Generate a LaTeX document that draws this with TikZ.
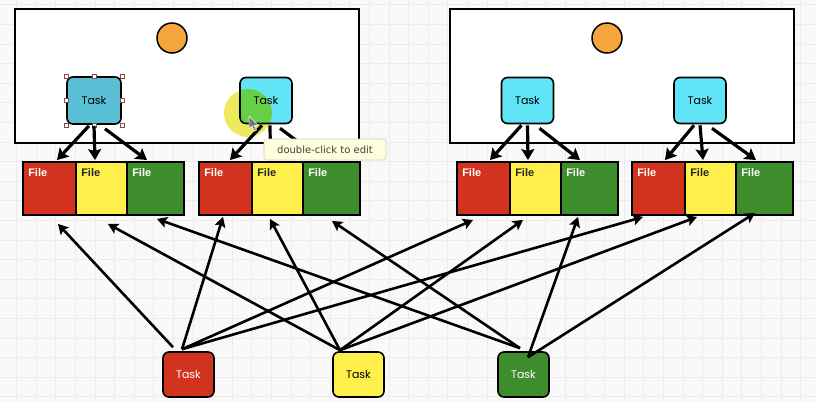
\documentclass[tikz,border=0pt]{standalone}
\usepackage{fontspec}
\setmainfont{Liberation Sans}
\newfontfamily\taskfont{Poppins}
\newfontfamily\tipfont{DejaVu Sans}
\usetikzlibrary{calc,arrows.meta}
\definecolor{bgc}{HTML}{F9F9F9}
\definecolor{gridc}{HTML}{ECECEC}
\definecolor{redc}{HTML}{D1331F}
\definecolor{yelc}{HTML}{FFEF4A}
\definecolor{grnc}{HTML}{3D8D2C}
\definecolor{cyanc}{HTML}{62E4F7}
\definecolor{selc}{HTML}{59BFD4}
\definecolor{orangec}{HTML}{F4A63C}
\definecolor{hlyel}{HTML}{EEEA5E}
\definecolor{hlgrn}{HTML}{66CF46}
\definecolor{tipbg}{HTML}{FFFFDD}
\definecolor{handlec}{HTML}{8A4A4A}
\tikzset{
  gridline/.style={draw=gridc, line width=0.8pt},
  container/.style={draw=black, fill=white, line width=2pt, minimum width=344pt, minimum height=134pt, inner sep=0pt},
  ballnode/.style={circle, draw=black, fill=orangec, line width=1.5pt, minimum size=30pt, inner sep=0pt},
  taskbox/.style={draw=black, rounded corners=6pt, line width=1.6pt, minimum width=52pt, minimum height=46pt, inner sep=0pt, font=\taskfont\fontsize{11}{13}\selectfont},
  filebox/.style={draw=black, line width=1.9pt, minimum height=53pt, inner sep=0pt},
  filelab/.style={anchor=north west, inner sep=0pt, xshift=6pt, yshift=-7pt, font=\bfseries\fontsize{11}{13}\selectfont},
  fileR/.style={filebox, fill=redc, minimum width=53pt, label={[filelab, text=white]north west:File}},
  fileY/.style={filebox, fill=yelc, minimum width=51pt, label={[filelab, text=black!85]north west:File}},
  fileG/.style={filebox, fill=grnc, minimum width=57pt, label={[filelab, text=white]north west:File}},
  toparrow/.style={draw=black, line width=3.2pt, -{Stealth[length=11pt,width=13pt,inset=2pt]}},
  botarrow/.style={draw=black, line width=2.6pt, -{Stealth[length=10pt,width=11pt,inset=2pt]}},
  handle/.style={draw=handlec, fill=white, line width=0.6pt, minimum size=4pt, inner sep=0pt},
  tooltip/.style={draw=black!18, fill=tipbg, rounded corners=3pt, line width=0.6pt, minimum width=122pt, minimum height=21pt, inner sep=0pt, text=black!75, font=\tipfont\fontsize{10}{12}\selectfont},
}
\begin{document}
\begin{tikzpicture}[x=1pt,y=-1pt]
\useasboundingbox (0,0) rectangle (816,402);
\fill[bgc] (0,0) rectangle (816,402);
\foreach \i in {0,...,41} {\draw[gridline] ({16.6+19.6*\i},0) -- ({16.6+19.6*\i},402);}
\foreach \i in {0,...,20} {\draw[gridline] (0,{4.8+19.6*\i}) -- (816,{4.8+19.6*\i});}

% containers
\node[container] (cl) at (187,76) {};
\node[container] (cr) at (622,76) {};
\node[ballnode] (bl) at (172,38) {};
\node[ballnode] (br) at (607,38) {};

% highlight circle
\coordinate (hl) at (248,113);
\fill[hlyel] (hl) circle[radius=24pt];

% top tasks
\node[taskbox, fill=selc, minimum width=54pt, minimum height=47pt] (t1) at (94,100.5) {Task};
\node[taskbox, fill=cyanc, path picture={\fill[hlgrn] (hl) circle[radius=24pt];}] (t2) at (266,100.5) {Task};
\node[taskbox, fill=cyanc] (t3) at (527.5,100.5) {Task};
\node[taskbox, fill=cyanc] (t4) at (700,100.5) {Task};
\foreach \p [count=\i] in {north west,north,north east,west,east,south west,south,south east}
  {\node[handle] (h\i) at (t1.\p) {};}

% files
\node[fileR] (f1r) at (49.5,188.5) {};
\node[fileY] (f1y) at (101.5,188.5) {};
\node[fileG] (f1g) at (155.5,188.5) {};
\node[fileR] (f2r) at (225.5,188.5) {};
\node[fileY] (f2y) at (277.5,188.5) {};
\node[fileG] (f2g) at (331.5,188.5) {};
\node[fileR] (f3r) at (483.5,188.5) {};
\node[fileY] (f3y) at (535.5,188.5) {};
\node[fileG] (f3g) at (589.5,188.5) {};
\node[fileR] (f4r) at (658.5,188.5) {};
\node[fileY] (f4y) at (710.5,188.5) {};
\node[fileG] (f4g) at (764.5,188.5) {};

% bottom tasks
\node[taskbox, fill=redc, text=white, minimum width=51pt, minimum height=45pt] (br1) at (188.5,374.5) {Task};
\node[taskbox, fill=yelc, text=black, minimum width=51pt, minimum height=45pt] (by1) at (358.5,374.5) {Task};
\node[taskbox, fill=grnc, text=white, minimum width=51pt, minimum height=45pt] (bg1) at (523.5,374.5) {Task};

% top arrows
\draw[toparrow] ($(t1.south)+(-5,1)$) -- ($(f1r.north)+(7.5,-1)$);
\draw[toparrow] ($(t1.south)+(0,1)$) -- ($(f1y.north)+(-6.5,-1)$);
\draw[toparrow] ($(t1.south)+(11,4)$) -- ($(f1g.north)+(-8.5,-1)$);
\draw[toparrow] ($(t2.south)+(-4,1)$) -- ($(f2r.north)+(4.5,-1)$);
\draw[toparrow] ($(t2.south)+(4,1)$) -- ($(f2y.north)+(-7,-1)$);
\draw[toparrow] ($(t2.south)+(14,4)$) -- ($(f2g.north)+(-9,-1)$);
\draw[toparrow] ($(t3.south)+(-6,1)$) -- ($(f3r.north)+(6.5,-1)$);
\draw[toparrow] ($(t3.south)+(0,1)$) -- ($(f3y.north)+(-7.5,-1)$);
\draw[toparrow] ($(t3.south)+(12,4)$) -- ($(f3g.north)+(-9.5,-1)$);
\draw[toparrow] ($(t4.south)+(-6,1)$) -- ($(f4r.north)+(6.5,-1)$);
\draw[toparrow] ($(t4.south)+(0,1)$) -- ($(f4y.north)+(-7.5,-1)$);
\draw[toparrow] ($(t4.south)+(12,4)$) -- ($(f4g.north)+(-8.5,-1)$);

% bottom arrows
\draw[botarrow] ($(br1.north)+(-15.5,-4)$) -- ($(f1r.south)+(8.5,8)$);
\draw[botarrow] ($(br1.north)+(-6.5,-2)$) -- ($(f2r.south)+(-2.5,1)$);
\draw[botarrow] ($(br1.north)+(-6.5,-2)$) -- ($(f3r.south)+(-10.5,4)$);
\draw[botarrow] ($(br1.north)+(-6.5,-2)$) -- ($(f4r.south)+(-15.5,1)$);
\draw[botarrow] ($(by1.north)+(-18.5,-1)$) -- ($(f1y.south)+(6.5,8)$);
\draw[botarrow] ($(by1.north)+(-18.5,-1)$) -- ($(f2y.south)+(-7.5,3)$);
\draw[botarrow] ($(by1.north)+(-18.5,-1)$) -- ($(f3y.south)+(-12.5,4)$);
\draw[botarrow] ($(by1.north)+(-18.5,-1)$) -- ($(f4y.south)+(-13.5,1)$);
\draw[botarrow] ($(bg1.north)+(-3.5,-3)$) -- ($(f1g.south)+(1.5,3)$);
\draw[botarrow] ($(bg1.north)+(-3.5,-3)$) -- ($(f2g.south)+(0.5,5)$);
\draw[botarrow] ($(bg1.north)+(4.5,6)$) -- ($(f3g.south)+(-11.5,1)$);
\draw[botarrow] ($(bg1.north)+(4.5,6)$) -- ($(f4g.south)+(-9.5,-3)$);

% tooltip and cursor
\node[tooltip] (tip) at (325,149.5) {double-click to edit};
\coordinate (cur) at (249,116);
\draw[fill=black!55, draw=white, line width=0.5pt, shift={(cur)}] (0,0) -- (0,13) -- (3,10) -- (5.5,15) -- (7.5,14) -- (5,9.3) -- (9,9.3) -- cycle;
\end{tikzpicture}
\end{document}
